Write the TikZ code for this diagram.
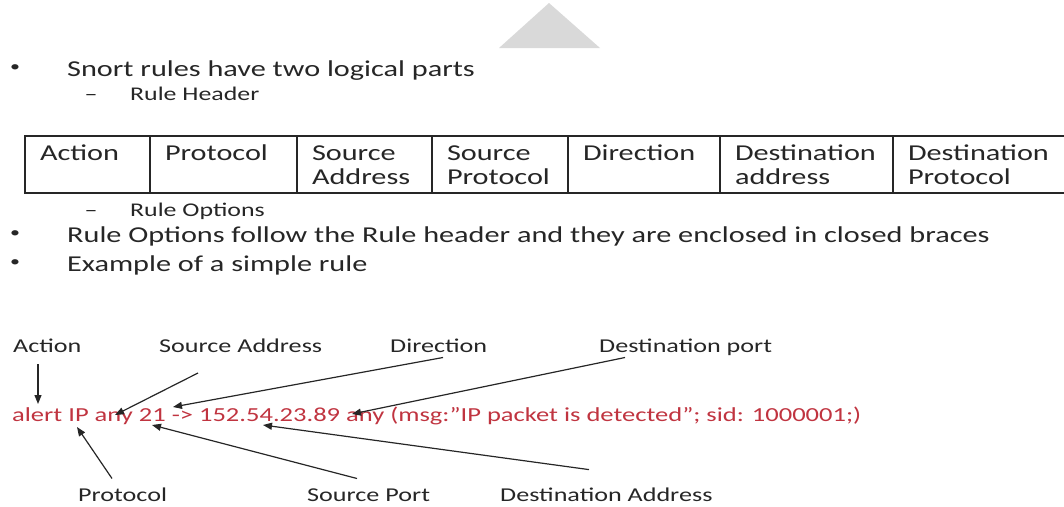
\documentclass[tikz,border=0pt]{standalone}
\usepackage{fontspec}
\setmainfont{Carlito}[FakeStretch=1.333]
\usepackage{xcolor}
\usepackage{tikz}
\usetikzlibrary{arrows.meta, positioning, calc}
\definecolor{mytext}{RGB}{38,38,38}
\definecolor{myred}{RGB}{192,52,64}
\definecolor{mygrey}{RGB}{217,217,217}
\tikzset{
  bodytext/.style={anchor=base west, inner sep=0pt, text=mytext,
    font=\fontsize{22.7}{23.5}\selectfont},
  subtext/.style={anchor=base west, inner sep=0pt, text=mytext,
    font=\fontsize{19.4}{22}\selectfont},
  bulletsym/.style={anchor=center, inner sep=0pt, text=mytext,
    font=\fontsize{15}{16}\selectfont},
  cell/.style={rectangle, draw=mytext, line width=1.4pt, outer sep=0pt,
    inner xsep=15pt, inner ysep=0pt, text height=24.5pt, text depth=32.5pt,
    align=left, text=mytext, font=\fontsize{22.7}{23.5}\selectfont},
  partname/.style={anchor=base west, inner sep=0pt, text=mytext,
    font=\fontsize{19.6}{22}\selectfont},
  ruletext/.style={anchor=base west, inner sep=0pt, text=myred,
    font=\fontsize{19.9}{22}\selectfont},
  arrow/.style={-{Triangle[length=9pt,width=7pt]}, line width=1.2pt, color=mytext}
}

\begin{document}
\begin{tikzpicture}[x=1pt, y=-1pt]
  \useasboundingbox (0,0) rectangle (1064,506);
  \fill[mygrey] (499,48) -- (549,3) -- (600,48) -- cycle;

  \node[bulletsym] (b1) at (15,68) {\textbullet};
  \node[bodytext] (parts) at (67,76) {Snort rules have two logical parts};
  \node[subtext, anchor=base] (d1) at (91,100) {–};
  \node[subtext] (hdr) at (130,100) {Rule Header};

  \node[cell, anchor=north west, text width=95pt] (hact) at (25,136) {Action};
  \node[cell, text width=117pt, right=0pt of hact] (hproto) {Protocol};
  \node[cell, text width=105pt, right=0pt of hproto] (hsaddr) {Source\\Address};
  \node[cell, text width=106pt, right=0pt of hsaddr] (hsproto) {Source\\Protocol};
  \node[cell, text width=122pt, right=0pt of hsproto] (hdir) {Direction};
  \node[cell, text width=143pt, right=0pt of hdir] (hdaddr) {Destination\\address};
  \node[cell, text width=147pt, right=0pt of hdaddr] (hdproto) {Destination\\Protocol};
  \draw[line width=2.6pt, color=mytext] (hact.north west) rectangle (hdproto.south east);

  \node[subtext, anchor=base] (d2) at (91,216) {–};
  \node[subtext] (opts) at (130,216) {Rule Options};
  \node[bulletsym] (b2) at (15,234) {\textbullet};
  \node[bodytext] (follow) at (67,242) {Rule Options follow the Rule header and they are enclosed in closed braces};
  \node[bulletsym] (b3) at (15,263) {\textbullet};
  \node[bodytext] (example) at (67,271) {Example of a simple rule};

  \node[partname] (lact) at (13,352) {Action};
  \node[partname] (lsaddr) at (159,352) {Source Address};
  \node[partname] (ldir) at (390,352) {Direction};
  \node[partname] (ldport) at (599,352) {Destination port};

  \node[ruletext] (rule) at (12,421) {alert IP any 21 -> 152.54.23.89 any (msg:”IP packet is detected”; sid: 1000001;)};

  \node[partname] (lproto) at (78,501) {Protocol};
  \node[partname] (lsport) at (307,501) {Source Port};
  \node[partname] (ldaddr) at (500,501) {Destination Address};

  \coordinate (tact) at (38,404);
  \coordinate (tsaddr) at (115,415);
  \coordinate (tdir) at (173,407);
  \coordinate (tdport) at (352,414);
  \coordinate (tproto) at (77,427);
  \coordinate (tsport) at (152,425);
  \coordinate (tdaddr) at (263,425);

  \draw[arrow] ($(lact.base west)+(25,12)$) -- (tact);
  \draw[arrow] ($(lsaddr.base west)+(39,21)$) -- (tsaddr);
  \draw[arrow] ($(ldir.base west)+(53,5.5)$) -- (tdir);
  \draw[arrow] ($(ldport.base west)+(26,5.5)$) -- (tdport);
  \draw[arrow] ($(lproto.base west)+(34,-22.5)$) -- (tproto);
  \draw[arrow] ($(lsport.base west)+(50,-22.5)$) -- (tsport);
  \draw[arrow] ($(ldaddr.base west)+(89,-31.4)$) -- (tdaddr);
\end{tikzpicture}
\end{document}
